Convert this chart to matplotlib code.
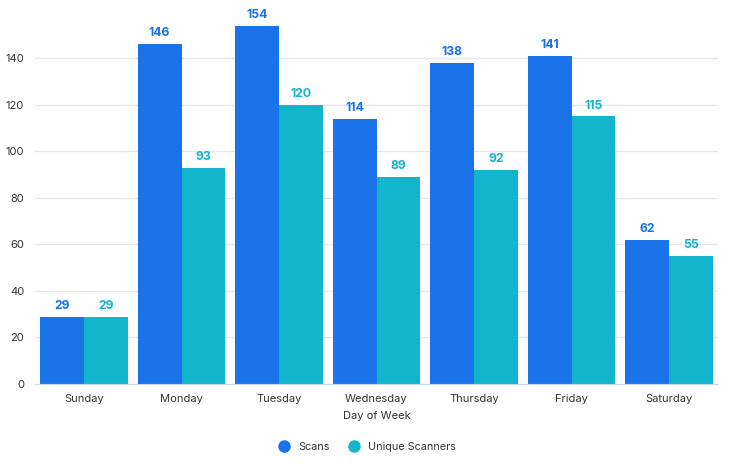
import matplotlib.pyplot as plt
import numpy as np

days = ["Sunday", "Monday", "Tuesday", "Wednesday", "Thursday", "Friday", "Saturday"]
scans = [29, 146, 154, 114, 138, 141, 62]
unique_scanners = [29, 93, 120, 89, 92, 115, 55]

blue = "#1a73e8"
teal = "#12b5cb"

plt.rcParams['font.family'] = ['Inter', 'DejaVu Sans']

fig = plt.figure(figsize=(7.29, 4.74), dpi=100)
ax = fig.add_axes([35.25 / 729, 1 - 384 / 474, (717.75 - 35.25) / 729, (384 - 7) / 474])

x = np.arange(len(days))
w = 0.45
b1 = ax.bar(x - w / 2, scans, w, color=blue, label="Scans")
b2 = ax.bar(x + w / 2, unique_scanners, w, color=teal, label="Unique Scanners")

# value labels over each bar
for bars, col in ((b1, blue), (b2, teal)):
    for r in bars:
        ax.annotate(str(int(r.get_height())), (r.get_x() + r.get_width() / 2, r.get_height()),
                    xytext=(0, 3.5), textcoords="offset points", ha="center", va="bottom",
                    fontsize=8.8, fontweight="bold", color=col)

ax.set_xlim(-0.5, len(days) - 0.5)
ax.set_ylim(0, 162)
ax.set_yticks(range(0, 141, 20))
ax.set_xticks(x)
ax.set_xticklabels(days)
ax.tick_params(axis="both", length=0, labelsize=8, colors="#333333")
ax.tick_params(axis="y", pad=8)
ax.tick_params(axis="x", pad=7)
ax.grid(axis="y", color="#e6e6e6", linewidth=1)
ax.set_axisbelow(True)
for s in ["top", "right", "left"]:
    ax.spines[s].set_visible(False)
ax.spines["bottom"].set_color("#ccd6eb")
ax.set_xlabel("Day of Week", fontsize=8, color="#333333", labelpad=5)

fig.legend(handles=[
    plt.Line2D([], [], marker="o", linestyle="", color=blue, markersize=8, label="Scans"),
    plt.Line2D([], [], marker="o", linestyle="", color=teal, markersize=8, label="Unique Scanners")],
    loc="center", bbox_to_anchor=(0.5, 1 - 447 / 474), ncol=2, frameon=False,
    fontsize=7.8, handletextpad=0.3, columnspacing=1.3, labelcolor="#333333")

fig.savefig("out.png", dpi=100)
